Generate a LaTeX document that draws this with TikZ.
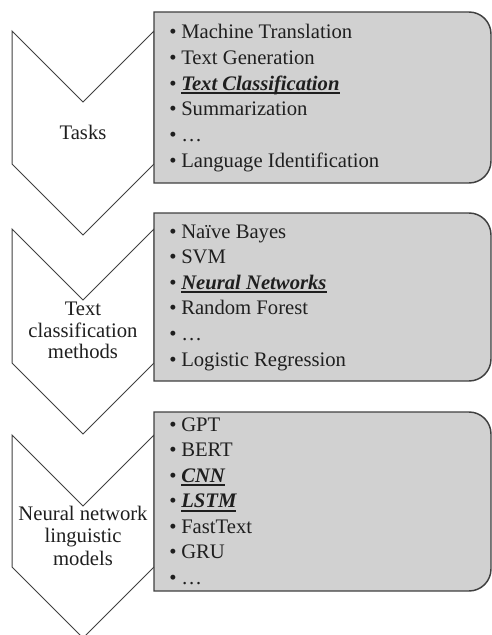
\documentclass[tikz,border=0pt]{standalone}
\usepackage{fontspec}
\setmainfont{Liberation Serif}
\definecolor{boxgray}{RGB}{209,209,209}
\definecolor{edgegray}{RGB}{64,64,64}
\newcommand\hlitem[1]{\setbox0=\hbox{\bfseries\itshape #1}\rlap{\rule[-3pt]{\wd0}{1.3pt}}\box0}
\newcommand\bul{\makebox[9pt][l]{•}}
\begin{document}
\begin{tikzpicture}[x=0.75pt,y=-0.75pt,
  chev/.style={draw=edgegray, line width=0.75pt, fill=white, line join=miter},
  listbox/.style={draw=edgegray, line width=1.1pt, fill=boxgray},
  item/.style={anchor=base west, inner sep=0pt, font=\fontsize{15.5}{18}\selectfont, text=black!88},
  lab/.style={anchor=base, inner sep=0pt, font=\fontsize{15.5}{18}\selectfont, text=black!88}]
\useasboundingbox (0,0) rectangle (492,635);

% chevrons
\draw[chev] (12,31) -- (83,102) -- (154,31) -- (154,164) -- (83,235) -- (12,164) -- cycle;
\draw[chev] (12,229) -- (83,300) -- (154,229) -- (154,363) -- (83,434) -- (12,363) -- cycle;
\draw[chev] (12,435) -- (83,506) -- (154,435) -- (154,567) -- (83,638) -- (12,567) -- cycle;

% boxes
\draw[listbox] (154,12) -- (469,12) arc[start angle=90,end angle=0,radius=16.5pt] -- (491,161) arc[start angle=0,end angle=-90,radius=16.5pt] -- (154,183) -- cycle;
\draw[listbox] (154,213) -- (469,213) arc[start angle=90,end angle=0,radius=16.5pt] -- (491,359) arc[start angle=0,end angle=-90,radius=16.5pt] -- (154,381) -- cycle;
\draw[listbox] (154,412) -- (469,412) arc[start angle=90,end angle=0,radius=16.5pt] -- (491,569) arc[start angle=0,end angle=-90,radius=16.5pt] -- (154,591) -- cycle;

% chevron labels
\node[lab] (l1) at (83,139) {Tasks};
\node[lab] (l2a) at (83,315) {Text};
\node[lab] (l2b) at (83,337) {classification};
\node[lab] (l2c) at (83,358) {methods};
\node[lab] (l3a) at (83,520) {Neural network};
\node[lab] (l3b) at (83,542) {linguistic};
\node[lab] (l3c) at (83,565) {models};

% box 1 items
\node[item] (a1) at (169,39) {\bul Machine Translation};
\node[item] (a2) at (169,64.6) {\bul Text Generation};
\node[item] (a3) at (169,90.2) {\bul\hlitem{Text Classification}};
\node[item] (a4) at (169,115.8) {\bul Summarization};
\node[item] (a5) at (169,141.4) {\bul …};
\node[item] (a6) at (169,167) {\bul Language Identification};

% box 2 items
\node[item] (b1) at (169,238) {\bul Naïve Bayes};
\node[item] (b2) at (169,263.6) {\bul SVM};
\node[item] (b3) at (169,289.2) {\bul\hlitem{Neural Networks}};
\node[item] (b4) at (169,314.8) {\bul Random Forest};
\node[item] (b5) at (169,340.4) {\bul …};
\node[item] (b6) at (169,366) {\bul Logistic Regression};

% box 3 items
\node[item] (c1) at (169,431) {\bul GPT};
\node[item] (c2) at (169,456.5) {\bul BERT};
\node[item] (c3) at (169,482) {\bul\hlitem{CNN}};
\node[item] (c4) at (169,507.5) {\bul\hlitem{LSTM}};
\node[item] (c5) at (169,533) {\bul FastText};
\node[item] (c6) at (169,558.5) {\bul GRU};
\node[item] (c7) at (169,584) {\bul …};
\end{tikzpicture}
\end{document}
